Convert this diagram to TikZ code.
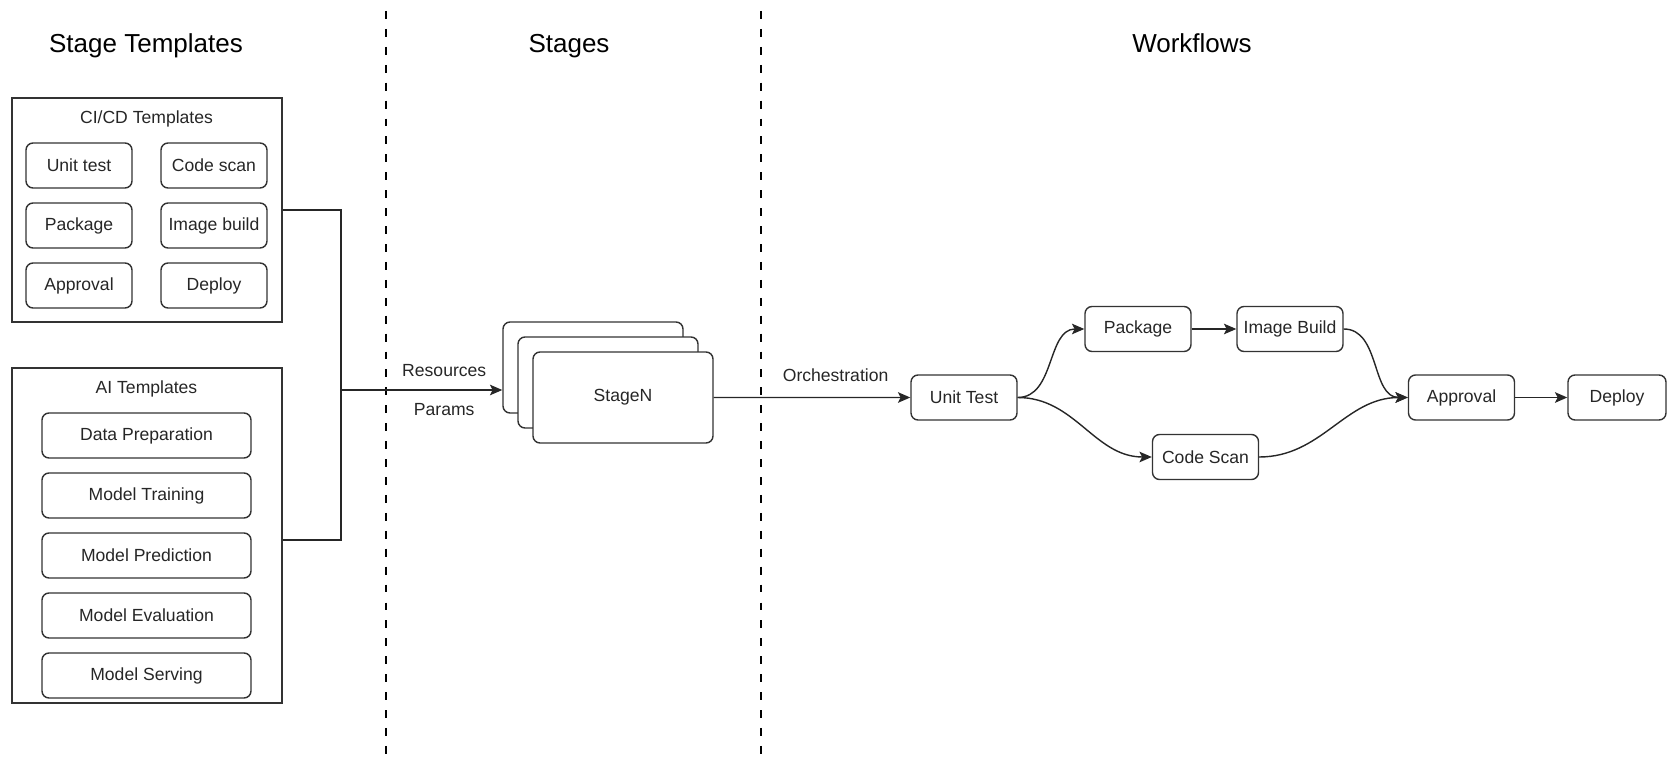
\documentclass[tikz,border=0pt]{standalone}
\usepackage{fontspec}
\setmainfont{Liberation Sans}
\usetikzlibrary{shapes.geometric, arrows, arrows.meta}
\tikzstyle{process} = [rectangle, rounded corners=4pt, minimum width=2.12cm, minimum height=0.9cm, text centered, draw=black!80, line width=0.8pt, text=black!85, font=\fontsize{10}{12}\selectfont]
\tikzstyle{wide} = [process, minimum width=4.18cm]
\tikzstyle{stage} = [process, minimum width=3.6cm, minimum height=1.82cm, fill=white]
\tikzstyle{group} = [rectangle, draw=black!80, line width=0.8pt]
\tikzstyle{title} = [anchor=base, font=\fontsize{14.8}{17}\selectfont]
\tikzstyle{caption} = [text=black!85, font=\fontsize{10}{12}\selectfont]
\tikzstyle{arrow} = [line width=0.8pt, draw=black!85, -{Stealth[length=7pt, width=6pt, inset=1.5pt]}]
\tikzstyle{line} = [line width=0.8pt, draw=black!85]
\tikzstyle{divider} = [line width=1.4pt, dash pattern=on 4.5pt off 5.7pt]

\begin{document}
\begin{tikzpicture}[node distance=1.2cm]
    \useasboundingbox (0,0) rectangle (33.34,-15.16);

    \node (titleTmpl) [title] at (2.92,-1.05) {Stage Templates};
    \node (titleStages) [title] at (11.38,-1.05) {Stages};
    \node (titleFlows) [title] at (23.84,-1.05) {Workflows};

    \draw [divider] (7.72,-0.22) -- (7.72,-15.16);
    \draw [divider] (15.22,-0.22) -- (15.22,-15.16);

    % stage templates
    \node (cicd) [group, minimum width=5.4cm, minimum height=4.48cm] at (2.94,-4.2) {};
    \node (cicdTitle) [caption] at (2.93,-2.38) {CI/CD Templates};
    \node (unitT) [process] at (1.58,-3.31) {Unit test};
    \node (codeT) [process, right of=unitT, xshift=1.5cm] {Code scan};
    \node (pkgT) [process, below of=unitT] {Package};
    \node (imgT) [process, below of=codeT] {Image build};
    \node (apprT) [process, below of=pkgT] {Approval};
    \node (deplT) [process, below of=imgT] {Deploy};

    \node (ai) [group, minimum width=5.4cm, minimum height=6.7cm] at (2.94,-10.71) {};
    \node (aiTitle) [caption] at (2.93,-7.78) {AI Templates};
    \node (dataPrep) [wide] at (2.93,-8.71) {Data Preparation};
    \node (training) [wide, below of=dataPrep] {Model Training};
    \node (prediction) [wide, below of=training] {Model Prediction};
    \node (evaluation) [wide, below of=prediction] {Model Evaluation};
    \node (serving) [wide, below of=evaluation] {Model Serving};

    \coordinate (join) at (6.82,-7.8);
    \draw [line] (cicd.east) -| (join);
    \draw [line] ([yshift=-0.09cm]ai.east) -| (join);

    % stages
    \node (stackA) [stage] at (11.86,-7.35) {};
    \node (stackB) [stage, xshift=0.3cm, yshift=-0.3cm] at (stackA) {};
    \node (stageN) [stage, xshift=0.3cm, yshift=-0.3cm] at (stackB) {StageN};

    \draw [arrow] (join) -- (join -| stackA.west) node[pos=0.64, above=4pt, caption] {Resources} node[pos=0.64, below=4pt, caption] {Params};

    % workflows
    \node (unitTest) [process] at (19.28,-7.95) {Unit Test};
    \node (package) [process] at (22.76,-6.58) {Package};
    \node (imageBuild) [process, right of=package, xshift=1.84cm] {Image Build};
    \node (codeScan) [process] at (24.11,-9.14) {Code Scan};
    \node (approval) [process] at (29.23,-7.95) {Approval};
    \node (deploy) [process, right of=approval, xshift=1.91cm, minimum width=1.96cm] {Deploy};

    \draw [arrow] (stageN) -- (unitTest) node[pos=0.62, above=5pt, caption] {Orchestration};
    \draw [arrow] (unitTest.east) to[out=0, in=180] (package.west);
    \draw [arrow] (unitTest.east) to[out=0, in=180] (codeScan.west);
    \draw [arrow] (package) -- (imageBuild);
    \draw [arrow] (imageBuild.east) to[out=0, in=180] (approval.west);
    \draw [arrow] (codeScan.east) to[out=0, in=180] (approval.west);
    \draw [arrow] (approval) -- (deploy);

\end{tikzpicture}
\end{document}
